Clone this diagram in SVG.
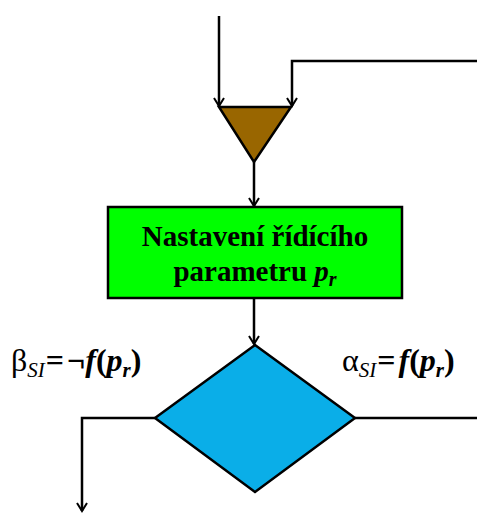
<svg xmlns="http://www.w3.org/2000/svg" width="477" height="513" viewBox="0 0 477 513">
<defs>
<marker id="arr" viewBox="0 0 12 12" refX="10" refY="6" markerWidth="12" markerHeight="12" markerUnits="userSpaceOnUse" orient="auto">
<path d="M2,1 L10,6 L2,11" fill="none" stroke="#000" stroke-width="2"/>
</marker>
<style>
.ln{fill:none;stroke:#000;stroke-width:2.5}
.nd{stroke:#000;stroke-width:2.5}
.t{font-family:"Liberation Serif","Times New Roman",serif;font-weight:bold;fill:#000}
.lb{font-family:"Liberation Serif","Times New Roman",serif;fill:#000;font-size:32px}
</style>
</defs>
<rect width="477" height="513" fill="#fff"/>
<g id="connectors">
<path class="ln" d="M219,16 V106" marker-end="url(#arr)"/>
<path class="ln" d="M477,61 H292 V106" marker-end="url(#arr)"/>
<path class="ln" d="M254,162 V206" marker-end="url(#arr)"/>
<path class="ln" d="M254,298 V344" marker-end="url(#arr)"/>
<path class="ln" d="M155,418 H82 V511" marker-end="url(#arr)"/>
<path class="ln" d="M355,418 H477"/>
</g>
<g id="merge">
<polygon class="nd" points="219,107 291,107 254,162" fill="#996600"/>
</g>
<g id="process">
<rect class="nd" x="108" y="207" width="294" height="91" fill="#00FF00"/>
<text class="t" x="255" y="246" font-size="29" text-anchor="middle">Nastavení řídícího</text>
<text class="t" x="255" y="281" font-size="29" text-anchor="middle">parametru <tspan font-style="italic">p</tspan><tspan font-style="italic" font-size="20" dy="5">r</tspan></text>
</g>
<g id="decision">
<polygon class="nd" points="255,345 355,418 255,492 155,418" fill="#0AAEE8"/>
</g>
<g id="labels">
<text class="lb" x="11" y="371">β<tspan font-style="italic" font-size="21" dy="6">SI</tspan><tspan font-weight="bold" dy="-6" dx="1">=</tspan><tspan font-weight="bold" dx="3">¬</tspan><tspan font-weight="bold" font-style="italic">f</tspan><tspan font-weight="bold">(</tspan><tspan font-weight="bold" font-style="italic">p</tspan><tspan font-weight="bold" font-style="italic" font-size="21" dy="6">r</tspan><tspan font-weight="bold" dy="-6">)</tspan></text>
<text class="lb" x="342" y="371">α<tspan font-style="italic" font-size="21" dy="6">SI</tspan><tspan font-weight="bold" dy="-6" dx="1">=</tspan><tspan font-weight="bold" font-style="italic" dx="3">f</tspan><tspan font-weight="bold">(</tspan><tspan font-weight="bold" font-style="italic">p</tspan><tspan font-weight="bold" font-style="italic" font-size="21" dy="6">r</tspan><tspan font-weight="bold" dy="-6">)</tspan></text>
</g>
</svg>
